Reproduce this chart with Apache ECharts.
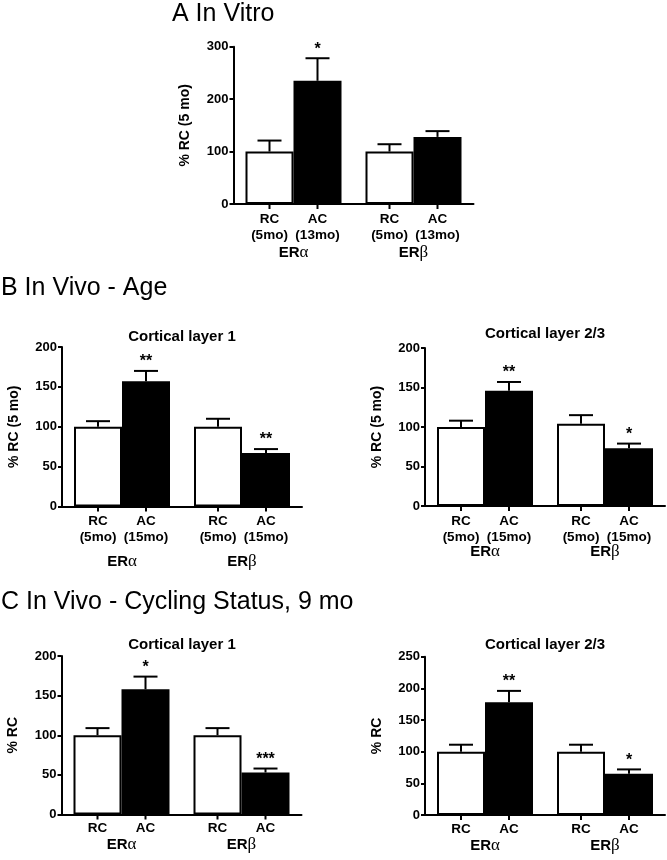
<!DOCTYPE html>
<html>
<head>
<meta charset="utf-8">
<script src="https://cdn.jsdelivr.net/npm/echarts@6/dist/echarts.min.js"></script>
<style>
html,body{margin:0;padding:0;background:#fff;}
#chart{width:667px;height:860px;}
</style>
</head>
<body>
<div id="chart"></div>
<script>
// ---- data ----
const positions = [0, 1, 2.5, 3.5];
const groupPositions = [0.5, 3];
const groupLabels = ['α', 'β'];
const catsA = ['RC\n(5mo)', 'AC\n(13mo)', 'RC\n(5mo)', 'AC\n(13mo)'];
const catsB = ['RC\n(5mo)', 'AC\n(15mo)', 'RC\n(5mo)', 'AC\n(15mo)'];
const catsC = ['RC', 'AC', 'RC', 'AC'];

const meanA = [100, 235, 100, 128];
const errA = [121, 278, 114, 139];
const sigA = ['', '*', '', ''];

const meanB1 = [100, 157, 100, 67];
const errB1 = [107, 170, 110, 72];
const sigB1 = ['', '**', '', '**'];

const meanB23 = [100, 146, 104, 73];
const errB23 = [108, 157, 115, 79];
const sigB23 = ['', '**', '', '*'];

const meanC1 = [100, 158, 100, 53];
const errC1 = [109, 174, 109, 58];
const sigC1 = ['', '*', '', '***'];

const meanC23 = [100, 178, 100, 65];
const errC23 = [111, 196, 111, 72];
const sigC23 = ['', '**', '', '*'];

const yTicksA = [0, 300, 100];
const yTicksB = [0, 200, 50];
const yTicksC1 = [0, 200, 50];
const yTicksC23 = [0, 250, 50];

// ---- layout ----
const FONT = '"Liberation Sans", Arial, Helvetica, sans-serif';
const panels = [
  { grid: {left: 233.5, top: 46.7, width: 240, height: 157.3}, cats: catsA, mean: meanA, err: errA, sig: sigA, y: yTicksA, yName: '% RC (5 mo)', catOff: 15, grpOff: 49 },
  { grid: {left: 62, top: 347, width: 240, height: 159.5}, cats: catsB, mean: meanB1, err: errB1, sig: sigB1, y: yTicksB, yName: '% RC (5 mo)', catOff: 14.5, grpOff: 55 },
  { grid: {left: 425, top: 348, width: 240, height: 158}, cats: catsB, mean: meanB23, err: errB23, sig: sigB23, y: yTicksB, yName: '% RC (5 mo)', catOff: 15, grpOff: 46 },
  { grid: {left: 61.5, top: 656, width: 240, height: 158.5}, cats: catsC, mean: meanC1, err: errC1, sig: sigC1, y: yTicksC1, yName: '% RC', catOff: 14, grpOff: 30 },
  { grid: {left: 425, top: 656.7, width: 240, height: 158.3}, cats: catsC, mean: meanC23, err: errC23, sig: sigC23, y: yTicksC23, yName: '% RC', catOff: 14, grpOff: 31 }
];

const grids = [], xAxes = [], yAxes = [], series = [];
panels.forEach((p, i) => {
  grids.push(Object.assign({outerBoundsMode: 'none', containLabel: false}, p.grid));
  xAxes.push({
    type: 'value', gridIndex: i, position: 'bottom', min: -0.75, max: 4.25,
    axisLine: {show: true, onZero: false, lineStyle: {color: '#000', width: 2}},
    axisTick: {show: false},
    axisLabel: {show: true, customValues: positions, margin: p.catOff - 8,
      formatter: v => { const k = positions.indexOf(v); return k >= 0 ? p.cats[k] : ''; },
      color: '#000', fontFamily: FONT, fontWeight: 'bold', fontSize: 13.5, lineHeight: 16},
    splitLine: {show: false}
  });
  xAxes.push({
    type: 'value', gridIndex: i, position: 'bottom', min: -0.75, max: 4.25,
    axisLine: {show: false, onZero: false}, axisTick: {show: false}, splitLine: {show: false},
    axisLabel: {show: true, customValues: groupPositions, margin: p.grpOff - 9,
      formatter: v => { const k = groupPositions.indexOf(v); return k >= 0 ? '{e|ER}{g|' + groupLabels[k] + '}' : ''; },
      rich: {
        e: {fontFamily: FONT, fontWeight: 'bold', fontSize: 15, color: '#000', lineHeight: 18},
        g: {fontFamily: '"Liberation Serif", "DejaVu Serif", serif', fontSize: 17, color: '#000', lineHeight: 18}
      }}
  });
  yAxes.push({
    type: 'value', gridIndex: i, min: p.y[0], max: p.y[1], interval: p.y[2],
    axisLine: {show: true, onZero: false, lineStyle: {color: '#000', width: 2}},
    axisTick: {show: true, length: 4, lineStyle: {color: '#000', width: 2}},
    axisLabel: {color: '#000', fontFamily: FONT, fontWeight: 'bold', fontSize: 13, margin: 5},
    splitLine: {show: false},
    name: p.yName, nameLocation: 'middle', nameGap: 41, nameRotate: 90,
    nameTextStyle: {color: '#000', fontFamily: FONT, fontWeight: 'bold', fontSize: 14}
  });
  series.push({
    type: 'bar', xAxisIndex: 2 * i, yAxisIndex: i, barWidth: 48,
    data: positions.map((x, k) => [x, p.mean[k]]),
    itemStyle: {color: params => (params.dataIndex % 2 === 0 ? '#fff' : '#000'), borderColor: '#000', borderWidth: 2},
    silent: true, animation: false
  });
  series.push({
    type: 'custom', xAxisIndex: 2 * i, yAxisIndex: i, z: 5, animation: false, silent: true, clip: false,
    data: positions.map((x, k) => [x, p.mean[k], p.err[k]]),
    renderItem: (params, api) => {
      const x = api.value(0), m = api.value(1), e = api.value(2);
      const p0 = api.coord([x, m]), p1 = api.coord([x, e]), pz = api.coord([x, 0]);
      const half = 12;
      return {type: 'group', children: [
        {type: 'line', shape: {x1: p0[0], y1: p0[1], x2: p1[0], y2: p1[1]}, style: {stroke: '#000', lineWidth: 2}},
        {type: 'line', shape: {x1: p1[0] - half, y1: p1[1], x2: p1[0] + half, y2: p1[1]}, style: {stroke: '#000', lineWidth: 2}},
        {type: 'line', shape: {x1: pz[0], y1: pz[1], x2: pz[0], y2: pz[1] + 5}, style: {stroke: '#000', lineWidth: 2}},
        {type: 'text', x: p1[0], y: p1[1] - 1, style: {text: p.sig[params.dataIndex], align: 'center', verticalAlign: 'bottom', font: 'bold 16px ' + FONT, fill: '#000'}}
      ]};
    }
  });
});

const titleStyle = (text, x, y, size, weight, align) => ({
  type: 'text', x: x, y: y, silent: true,
  style: {text: text, font: weight + ' ' + size + 'px ' + FONT, fill: '#000', align: align, verticalAlign: 'middle'}
});

const chart = echarts.init(document.getElementById('chart'), null, {renderer: 'canvas'});
chart.setOption({
  backgroundColor: '#fff',
  animation: false,
  grid: grids, xAxis: xAxes, yAxis: yAxes, series: series,
  graphic: [
    titleStyle('A In Vitro', 172, 14, 25, 'normal', 'left'),
    titleStyle('B In Vivo - Age', 1, 288, 25, 'normal', 'left'),
    titleStyle('C In Vivo - Cycling Status, 9 mo', 1, 602, 25, 'normal', 'left'),
    titleStyle('Cortical layer 1', 182, 337, 15, 'bold', 'center'),
    titleStyle('Cortical layer 2/3', 545, 334, 15, 'bold', 'center'),
    titleStyle('Cortical layer 1', 182, 645, 15, 'bold', 'center'),
    titleStyle('Cortical layer 2/3', 545, 645, 15, 'bold', 'center')
  ]
});
</script>
</body>
</html>
